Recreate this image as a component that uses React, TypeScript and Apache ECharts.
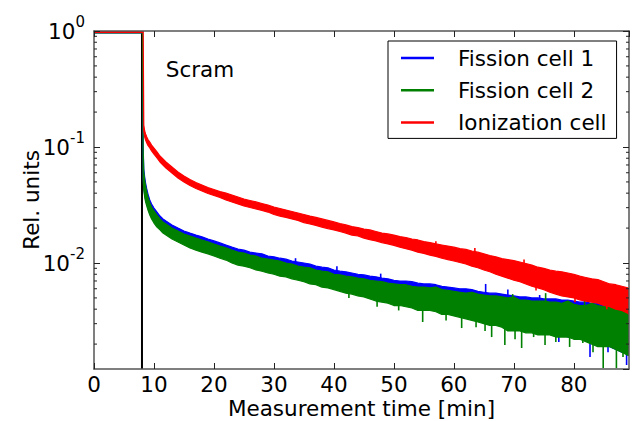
import React, { useEffect, useRef } from 'react';
import * as echarts from 'echarts';

const FONT = "'DejaVu Sans', 'Bitstream Vera Sans', sans-serif";

// ---- Axis ranges & labels ----
const X_MIN = 0;
const X_MAX = 89.2;
const X_INTERVAL = 10;
const Y_MIN = 0.00122;
const Y_MAX = 1;
const X_LABEL = 'Measurement time [min]';
const Y_LABEL = 'Rel. units';
const SCRAM_LABEL = 'Scram';
const SCRAM_TIME = 8.0;
const MINOR_TICKS = [
  0.002, 0.003, 0.004, 0.005, 0.006, 0.007, 0.008, 0.009,
  0.02, 0.03, 0.04, 0.05, 0.06, 0.07, 0.08, 0.09,
  0.2, 0.3, 0.4, 0.5, 0.6, 0.7, 0.8, 0.9,
];

const SERIES_NAMES = ['Fission cell 1', 'Fission cell 2', 'Ionization cell'];
const SERIES_COLORS = ['#0000ff', '#008000', '#ff0000'];

// ---- Time grid (minutes) ----
const T = [
  0, 8.1, 8.2, 8.3, 8.45, 8.6, 8.8, 9, 9.3, 9.6,
  10, 10.5, 11, 11.5, 12, 13, 14, 15, 16, 17,
  18, 19, 20, 21, 22, 23, 24, 25, 26, 27,
  28, 29, 30, 31, 32, 33, 34, 35, 36, 37,
  38, 39, 40, 41, 42, 43, 44, 45, 46, 47,
  48, 49, 50, 51, 52, 53, 54, 55, 56, 57,
  58, 59, 60, 61, 62, 63, 64, 65, 66, 67,
  68, 69, 70, 71, 72, 73, 74, 75, 76, 77,
  78, 79, 80, 81, 82, 83, 84, 85, 86, 87,
  88, 89, 89.2,
];

// ---- Ionization cell: upper / lower edge of the noisy trace ----
const RED_UPPER = [
  1, 1, 1, 0.1547, 0.1374, 0.1294, 0.1219, 0.116, 0.1104, 0.104,
  0.098, 0.0906, 0.0836, 0.0788, 0.0743, 0.0672, 0.0609, 0.0562, 0.0525, 0.0494,
  0.047, 0.0448, 0.043, 0.0413, 0.0401, 0.0386, 0.0371, 0.0356, 0.0346, 0.0336,
  0.0326, 0.0316, 0.0304, 0.0295, 0.0286, 0.0278, 0.027, 0.0262, 0.0254, 0.0247,
  0.024, 0.0233, 0.0226, 0.0219, 0.0213, 0.0206, 0.0202, 0.0196, 0.0193, 0.0187,
  0.0181, 0.0178, 0.0174, 0.0169, 0.0166, 0.0161, 0.0158, 0.0153, 0.015, 0.0146,
  0.0143, 0.014, 0.0137, 0.0133, 0.0131, 0.0127, 0.0124, 0.012, 0.0116, 0.0113,
  0.0109, 0.0107, 0.0105, 0.0102, 0.0099, 0.0096, 0.0092, 0.009, 0.0087, 0.0085,
  0.0084, 0.0082, 0.008, 0.0077, 0.0075, 0.0073, 0.0072, 0.0069, 0.0066, 0.0065,
  0.0063, 0.0061, 0.006,
];
const RED_LOWER = [
  0.975, 0.975, 0.975, 0.1374, 0.1219, 0.1149, 0.1082, 0.103, 0.098, 0.0924,
  0.087, 0.0804, 0.0743, 0.07, 0.0659, 0.0597, 0.0541, 0.0499, 0.0466, 0.0439,
  0.0418, 0.0397, 0.0382, 0.0367, 0.0349, 0.0336, 0.0323, 0.031, 0.0301, 0.0292,
  0.0284, 0.0275, 0.0262, 0.0254, 0.0247, 0.024, 0.0233, 0.0223, 0.0217, 0.0211,
  0.0204, 0.0198, 0.0193, 0.0187, 0.0181, 0.0174, 0.0171, 0.0164, 0.0159, 0.0155,
  0.015, 0.0146, 0.0142, 0.0137, 0.0133, 0.0129, 0.0124, 0.0121, 0.0117, 0.0114,
  0.011, 0.0107, 0.0104, 0.0101, 0.0098, 0.0094, 0.0091, 0.0087, 0.0084, 0.008,
  0.0077, 0.0074, 0.0071, 0.0069, 0.0066, 0.0063, 0.0061, 0.0059, 0.0056, 0.0054,
  0.0052, 0.0051, 0.005, 0.0048, 0.0047, 0.0046, 0.0045, 0.0043, 0.0042, 0.004,
  0.0039, 0.0037, 0.0036,
];

// ---- Fission cell 2 ----
const GREEN_UPPER = [
  0.985, 0.985, 0.0942, 0.0609, 0.0519, 0.0461, 0.0409, 0.0371, 0.0329, 0.0304,
  0.0281, 0.0259, 0.024, 0.0226, 0.0217, 0.02, 0.0189, 0.0178, 0.0171, 0.0164,
  0.0158, 0.0152, 0.0146, 0.014, 0.0135, 0.0129, 0.0124, 0.0122, 0.0117, 0.0115,
  0.011, 0.0108, 0.0106, 0.0104, 0.01, 0.0098, 0.0094, 0.0092, 0.0091, 0.0087,
  0.0085, 0.0084, 0.008, 0.0079, 0.0077, 0.0076, 0.0074, 0.0073, 0.0071, 0.007,
  0.0069, 0.0067, 0.0066, 0.0065, 0.0065, 0.0063, 0.0062, 0.0062, 0.0061, 0.0062,
  0.0059, 0.0058, 0.0057, 0.0056, 0.0055, 0.0056, 0.0054, 0.0053, 0.0052, 0.0052,
  0.0051, 0.005, 0.0051, 0.0048, 0.0048, 0.0047, 0.0047, 0.0047, 0.0046, 0.0046,
  0.0045, 0.0047, 0.0044, 0.0043, 0.0043, 0.0045, 0.0043, 0.0042, 0.0042, 0.0041,
  0.004, 0.0039, 0.0039,
];
const GREEN_LOWER = [
  0.962, 0.962, 0.0519, 0.0426, 0.0371, 0.0336, 0.031, 0.0286, 0.0259, 0.024,
  0.0221, 0.0204, 0.0193, 0.0181, 0.0174, 0.0161, 0.0152, 0.0143, 0.0135, 0.0129,
  0.0124, 0.012, 0.0115, 0.011, 0.0106, 0.01, 0.0096, 0.0094, 0.0091, 0.0087,
  0.0085, 0.0082, 0.008, 0.0077, 0.0076, 0.0073, 0.0071, 0.0069, 0.0066, 0.0065,
  0.0062, 0.0061, 0.0059, 0.0057, 0.0055, 0.0054, 0.0052, 0.0051, 0.0049, 0.0047,
  0.0046, 0.0045, 0.0043, 0.0043, 0.0042, 0.0041, 0.0039, 0.0039, 0.0039, 0.0038,
  0.0036, 0.0036, 0.0035, 0.0034, 0.0033, 0.0032, 0.0031, 0.003, 0.0029, 0.0029,
  0.0028, 0.0026, 0.0026, 0.0026, 0.0025, 0.0025, 0.0024, 0.0024, 0.0024, 0.0023,
  0.0023, 0.0023, 0.0022, 0.0022, 0.0021, 0.002, 0.0019, 0.0019, 0.0019, 0.0018,
  0.0017, 0.0016, 0.0016,
];

// ---- Fission cell 1 ----
const BLUE_UPPER = [
  0.99, 0.99, 0.1, 0.0646, 0.0551, 0.0489, 0.0435, 0.0393, 0.0349, 0.0323,
  0.0298, 0.0275, 0.0254, 0.024, 0.023, 0.0213, 0.02, 0.0189, 0.0181, 0.0174,
  0.0168, 0.0161, 0.0155, 0.0149, 0.0143, 0.0137, 0.0132, 0.0129, 0.0124, 0.0122,
  0.012, 0.0115, 0.0113, 0.011, 0.0108, 0.0104, 0.0102, 0.01, 0.0098, 0.0094,
  0.0092, 0.0091, 0.0087, 0.0085, 0.0084, 0.0082, 0.008, 0.0079, 0.0077, 0.0076,
  0.0074, 0.0073, 0.0071, 0.007, 0.007, 0.0069, 0.0067, 0.0066, 0.0066, 0.0065,
  0.0063, 0.0062, 0.0061, 0.006, 0.006, 0.0059, 0.0057, 0.0056, 0.0055, 0.0055,
  0.0054, 0.0053, 0.0052, 0.0051, 0.0051, 0.005, 0.005, 0.0049, 0.0049, 0.0049,
  0.0048, 0.0048, 0.0047, 0.0046, 0.0046, 0.0045, 0.0045, 0.0044, 0.0044, 0.0043,
  0.0043, 0.0042, 0.0042,
];
const BLUE_LOWER = [
  0.965, 0.965, 0.0541, 0.0443, 0.0386, 0.0349, 0.0323, 0.0298, 0.027, 0.0249,
  0.023, 0.0213, 0.02, 0.0189, 0.0181, 0.0168, 0.0158, 0.0149, 0.014, 0.0135,
  0.0129, 0.0124, 0.012, 0.0115, 0.011, 0.0104, 0.01, 0.0098, 0.0094, 0.0091,
  0.0089, 0.0085, 0.0084, 0.008, 0.0079, 0.0076, 0.0074, 0.0071, 0.0069, 0.0067,
  0.0065, 0.0063, 0.0061, 0.006, 0.0057, 0.0056, 0.0054, 0.0053, 0.0051, 0.0049,
  0.0048, 0.0047, 0.0045, 0.0044, 0.0043, 0.0043, 0.0041, 0.004, 0.004, 0.0039,
  0.0038, 0.0037, 0.0036, 0.0036, 0.0034, 0.0034, 0.0032, 0.0032, 0.003, 0.003,
  0.0029, 0.0028, 0.0027, 0.0027, 0.0026, 0.0026, 0.0025, 0.0025, 0.0025, 0.0024,
  0.0024, 0.0023, 0.0023, 0.0023, 0.0022, 0.0021, 0.002, 0.002, 0.0019, 0.0018,
  0.0017, 0.0017, 0.0016,
];

// ---- Isolated noise spikes: [time, tip value] ----
const BLUE_SPIKES = [
  [33.6, 0.011], [40.5, 0.0094], [47.8, 0.0081], [65.3, 0.0066], [69, 0.0059],
  [74.3, 0.0053], [77.5, 0.00208], [82.7, 0.00155], [85.7, 0.0017], [88.8, 0.00132],
];
const GREEN_SPIKES = [
  [42.5, 0.005], [47.2, 0.0042], [50.8, 0.0039], [54.8, 0.0031], [58.7, 0.0032],
  [61.3, 0.00275], [63.7, 0.0028], [65.2, 0.0026], [66.3, 0.0023], [68.5, 0.00196],
  [69.8, 0.0054], [70.2, 0.0022], [71.3, 0.00185], [73.3, 0.0023], [75.2, 0.00196],
  [75.3, 0.0055], [77, 0.00208], [79.3, 0.00189], [81.5, 0.00204], [81.8, 0.0049],
  [83.2, 0.0017], [84.9, 0.00124], [86.3, 0.0048], [87.1, 0.00124], [88.2, 0.00155],
];
const RED_SPIKES = [
  [57, 0.0154], [63.5, 0.0135], [71.7, 0.0107], [73.7, 0.0058], [80.2, 0.0046], [85.5, 0.004],
];

function makeBand(upper: number[], lower: number[], spikes: number[][], color: string) {
  return (params: any, api: any) => {
    const top = T.map((t, i) => api.coord([t, upper[i]]));
    const bot = T.map((t, i) => api.coord([t, lower[i]]));
    const pts = top.concat(bot.slice().reverse());
    const children: any[] = [
      {
        type: 'polygon',
        shape: { points: pts },
        style: { fill: color, stroke: color, lineWidth: 1.2, lineJoin: 'round' },
      },
    ];
    spikes.forEach(([t, v]) => {
      let i = 0;
      while (i < T.length - 2 && T[i + 1] < t) i++;
      const f = (t - T[i]) / (T[i + 1] - T[i]);
      const midY =
        ((top[i][1] + bot[i][1]) * (1 - f) + (top[i + 1][1] + bot[i + 1][1]) * f) / 2;
      const tip = api.coord([t, v]);
      children.push({
        type: 'line',
        shape: { x1: tip[0], y1: midY, x2: tip[0], y2: tip[1] },
        style: { stroke: color, lineWidth: 1.6 },
      });
    });
    return { type: 'group', children };
  };
}

function minorTickRenderer(params: any, api: any) {
  const cs = params.coordSys;
  const y = api.coord([X_MIN, api.value(1)])[1];
  const style = { stroke: '#222', lineWidth: 1 };
  return {
    type: 'group',
    children: [
      { type: 'line', shape: { x1: cs.x, y1: y, x2: cs.x + 3, y2: y }, style },
      { type: 'line', shape: { x1: cs.x + cs.width - 3, y1: y, x2: cs.x + cs.width, y2: y }, style },
    ],
  };
}

const axisLineStyle = { show: true, onZero: false, lineStyle: { color: '#555', width: 1.5 } };
const axisTickStyle = { show: true, inside: true, length: 6, lineStyle: { color: '#222', width: 1 } };

function yLabel(v: number) {
  const e = Math.log10(v);
  const r = Math.round(e);
  if (Math.abs(e - r) > 1e-6) return '';
  return '{b|10}{s|' + r + '}';
}

export default function App() {
  const ref = useRef<HTMLDivElement>(null);
  useEffect(() => {
    if (!ref.current) return;
    const chart = echarts.init(ref.current, undefined, { renderer: 'svg' });
    const bands = [
      [BLUE_UPPER, BLUE_LOWER, BLUE_SPIKES],
      [GREEN_UPPER, GREEN_LOWER, GREEN_SPIKES],
      [RED_UPPER, RED_LOWER, RED_SPIKES],
    ] as any[];
    const option: any = {
      animation: false,
      backgroundColor: '#fff',
      textStyle: { fontFamily: FONT },
      grid: { left: 94, right: 4, top: 31, bottom: 52, outerBoundsMode: 'none' },
      legend: {
        data: SERIES_NAMES.map((name) => ({ name, icon: 'rect' })),
        orient: 'vertical',
        left: 388,
        top: 41,
        padding: [6, 10, 5, 13],
        itemWidth: 33,
        itemHeight: 2.5,
        itemGap: 10.2,
        backgroundColor: '#fff',
        borderColor: '#000',
        borderWidth: 1,
        borderRadius: 0,
        selectedMode: false,
        textStyle: { fontFamily: FONT, fontSize: 21.5, color: '#000', padding: [0, 0, 0, 19] },
      },
      xAxis: [
        {
          type: 'value', min: X_MIN, max: X_MAX, interval: X_INTERVAL, position: 'bottom', z: 5,
          axisLine: axisLineStyle, axisTick: axisTickStyle, splitLine: { show: false },
          axisLabel: {
            fontFamily: FONT, fontSize: 21.5, lineHeight: 18, color: '#000', margin: 6.5,
            showMaxLabel: false,
            formatter: (v: number) => (Math.abs(v % X_INTERVAL) < 1e-9 ? String(v) : ''),
          },
          name: X_LABEL, nameLocation: 'middle', nameGap: 30.5, nameMoveOverlap: false,
          nameTextStyle: { fontFamily: FONT, fontSize: 21.5, lineHeight: 18, color: '#000' },
        },
        {
          type: 'value', min: X_MIN, max: X_MAX, interval: X_INTERVAL, position: 'top', z: 5,
          axisLine: axisLineStyle, axisTick: axisTickStyle, splitLine: { show: false },
          axisLabel: { show: false },
        },
      ],
      yAxis: [
        {
          type: 'log', logBase: 10, min: Y_MIN, max: Y_MAX, position: 'left', z: 5,
          axisLine: axisLineStyle, axisTick: axisTickStyle, splitLine: { show: false },
          minorTick: { show: false },
          axisLabel: {
            margin: 9, showMinLabel: false, formatter: yLabel,
            rich: {
              b: { fontFamily: FONT, fontSize: 21.5, color: '#000', lineHeight: 34 },
              s: { fontFamily: FONT, fontSize: 15, color: '#000', verticalAlign: 'top', lineHeight: 15 },
            },
          },
          name: Y_LABEL, nameLocation: 'middle', nameGap: 52, nameMoveOverlap: false,
          nameTextStyle: { fontFamily: FONT, fontSize: 21.5, color: '#000' },
        },
        {
          type: 'log', logBase: 10, min: Y_MIN, max: Y_MAX, position: 'right', z: 5,
          axisLine: axisLineStyle, axisTick: axisTickStyle, splitLine: { show: false },
          axisLabel: { show: false },
        },
      ],
      graphic: [
        {
          type: 'text', x: 200, y: 69, z: 100,
          style: {
            text: SCRAM_LABEL, fontFamily: FONT, fontSize: 21.5, fill: '#000',
            align: 'center', verticalAlign: 'middle',
          },
        },
      ],
      series: [
        {
          name: 'Scram', type: 'line', data: [[SCRAM_TIME, Y_MIN], [SCRAM_TIME, Y_MAX]],
          symbol: 'none', showSymbol: false, silent: true, z: 1,
          lineStyle: { color: '#000', width: 2 },
        },
        ...bands.map((b, k) => ({
          name: SERIES_NAMES[k],
          type: 'custom',
          renderItem: makeBand(b[0], b[1], b[2], SERIES_COLORS[k]),
          data: [[10, 0.1]],
          encode: { x: 0, y: 1 },
          itemStyle: { color: SERIES_COLORS[k] },
          clip: true,
          silent: true,
          z: 2,
        })),
        {
          name: 'minor ticks', type: 'custom', renderItem: minorTickRenderer,
          data: MINOR_TICKS.map((v) => [X_MIN, v]), encode: { x: 0, y: 1 },
          silent: true, z: 10,
        },
      ],
    };
    chart.setOption(option);
    return () => chart.dispose();
  }, []);
  return <div ref={ref} style={{ position: 'fixed', left: 0, top: 0, width: 633, height: 421 }} />;
}
